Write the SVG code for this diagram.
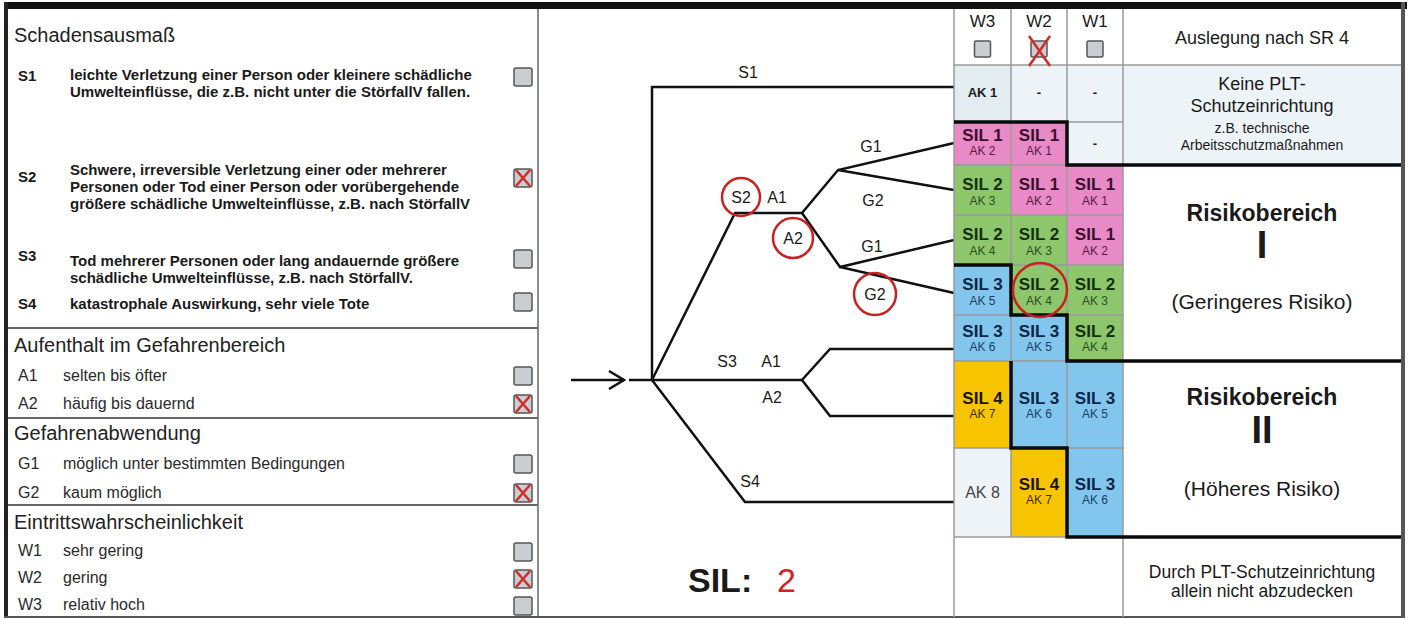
<svg xmlns="http://www.w3.org/2000/svg" width="1409" height="619" viewBox="0 0 1409 619">
<style>
.t{font-family:"Liberation Sans",Arial,sans-serif;fill:#1a1a1a}
.h{font-size:20px;fill:#222}
.sb{font-size:15px;font-weight:bold}
.ln{font-size:16px;fill:#2a2a2a}
.cb{fill:#c9ced2;stroke:#555;stroke-width:1.5}
.rx{stroke:#d42a2a;stroke-width:2.5;fill:none}
.tree{stroke:#111;stroke-width:2.5;fill:none}
.rc{fill:none;stroke:#cc1f1f;stroke-width:2.5}
.tl{font-size:16px;text-anchor:middle}
.grid{stroke:#9a9a9a;stroke-width:1.5;fill:none}
.thick{stroke:#0a0a0a;stroke-width:3.5;fill:none}
.sep{stroke:#666;stroke-width:2;fill:none}
.sil{font-size:17px;font-weight:bold;text-anchor:middle}
.ak{font-size:12px;text-anchor:middle}
.c{text-anchor:middle}
.pink{fill:#e88ac6}.green{fill:#8ec66c}.blue{fill:#82c6ed}.yellow{fill:#f8c400}.light{fill:#edf3f6}
.pk{fill:#3a0f2e}.pk2{fill:#5a1a45}.gr{fill:#13300a}.gr2{fill:#2b4f1c}.bl{fill:#0b2447}.bl2{fill:#1c3e66}.ye{fill:#1a1400}.ye2{fill:#3a2d00}
</style>
<defs>
<g id="box"><rect class="cb" x="0" y="0" width="18" height="18" rx="2"/></g>
<g id="boxx"><rect class="cb" x="0" y="0" width="18" height="18" rx="2"/><path class="rx" d="M2,1 L16,17 M16,1 L2,17"/></g>
<marker id="arr" markerWidth="18" markerHeight="20" refX="16" refY="10" orient="auto" markerUnits="userSpaceOnUse"><path d="M1,1 L16,10 L1,19" fill="none" stroke="#111" stroke-width="2.5"/></marker>
</defs>
<rect x="0" y="0" width="1409" height="619" fill="#fff"/>

<!-- frame -->
<g id="frame">
<rect x="4" y="2" width="1403" height="7" fill="#111"/>
<rect x="4" y="2" width="4" height="616" fill="#222"/>
<rect x="1401" y="2" width="4" height="616" fill="#555"/>
<line x1="4" y1="617" x2="1405" y2="617" stroke="#555" stroke-width="2"/>
<line x1="538" y1="9" x2="538" y2="617" stroke="#666" stroke-width="1.5"/>
</g>

<!-- left panel -->
<g id="schadensausmass">
<text class="t h" x="14" y="42">Schadensausmaß</text>
<text class="t sb" x="18" y="81">S1</text>
<text class="t sb" x="70" y="80">leichte Verletzung einer Person oder kleinere schädliche</text>
<text class="t sb" x="70" y="97">Umwelteinflüsse,  die z.B. nicht unter die StörfallV fallen.</text>
<use href="#box" x="514" y="68"/>
<text class="t sb" x="18" y="182">S2</text>
<text class="t sb" x="70" y="175">Schwere, irreversible Verletzung einer oder mehrerer</text>
<text class="t sb" x="70" y="192">Personen oder Tod einer Person oder vorübergehende</text>
<text class="t sb" x="70" y="209">größere schädliche Umwelteinflüsse, z.B. nach StörfallV</text>
<use href="#boxx" x="514" y="169"/>
<text class="t sb" x="18" y="261">S3</text>
<text class="t sb" x="70" y="266">Tod mehrerer Personen oder lang andauernde größere</text>
<text class="t sb" x="70" y="283">schädliche Umwelteinflüsse, z.B. nach StörfallV.</text>
<use href="#box" x="514" y="250"/>
<text class="t sb" x="18" y="309">S4</text>
<text class="t sb" x="70" y="309">katastrophale Auswirkung, sehr viele Tote</text>
<use href="#box" x="514" y="293"/>
<line class="sep" x1="8" y1="328" x2="538" y2="328"/>
</g>

<g id="aufenthalt">
<text class="t h" x="14" y="352">Aufenthalt  im Gefahrenbereich</text>
<text class="t ln" x="18" y="381">A1</text>
<text class="t ln" x="63" y="381">selten bis öfter</text>
<use href="#box" x="514" y="367"/>
<text class="t ln" x="18" y="409">A2</text>
<text class="t ln" x="63" y="409">häufig bis dauernd</text>
<use href="#boxx" x="514" y="395"/>
<line class="sep" x1="8" y1="418" x2="538" y2="418"/>
</g>

<g id="gefahrenabwendung">
<text class="t h" x="14" y="440">Gefahrenabwendung</text>
<text class="t ln" x="18" y="469">G1</text>
<text class="t ln" x="63" y="469">möglich unter bestimmten Bedingungen</text>
<use href="#box" x="514" y="455"/>
<text class="t ln" x="18" y="498">G2</text>
<text class="t ln" x="63" y="498">kaum möglich</text>
<use href="#boxx" x="514" y="484"/>
<line class="sep" x1="8" y1="505" x2="538" y2="505"/>
</g>

<g id="eintritt">
<text class="t h" x="14" y="529">Eintrittswahrscheinlichkeit</text>
<text class="t ln" x="18" y="556">W1</text>
<text class="t ln" x="63" y="556">sehr gering</text>
<use href="#box" x="514" y="543"/>
<text class="t ln" x="18" y="583">W2</text>
<text class="t ln" x="63" y="583">gering</text>
<use href="#boxx" x="514" y="570"/>
<text class="t ln" x="18" y="610">W3</text>
<text class="t ln" x="63" y="610">relativ hoch</text>
<use href="#box" x="514" y="597"/>
</g>

<!-- tree connectors -->
<g id="connectors">
<line class="tree" x1="571" y1="380" x2="624" y2="380" marker-end="url(#arr)"/>
<path class="tree" d="M629,380 H802"/>
<path class="tree" d="M652,380 V87 H954"/>
<path class="tree" d="M652,380 L735,213 H802"/>
<path class="tree" d="M802,213 L838,170 L954,143 M838,170 L954,190"/>
<path class="tree" d="M802,213 L840,267 L954,240 M840,267 L954,293"/>
<path class="tree" d="M954,349 H830 L802,380 L830,416 H954"/>
<path class="tree" d="M652,380 L745,502 H954"/>
</g>

<g id="tree-labels">
<text class="t tl" x="748" y="78">S1</text>
<text class="t tl" x="741" y="203">S2</text>
<circle class="rc" cx="741" cy="197" r="19"/>
<text class="t tl" x="777" y="203">A1</text>
<text class="t tl" x="793" y="244">A2</text>
<circle class="rc" cx="793" cy="238" r="20"/>
<text class="t tl" x="871" y="152">G1</text>
<text class="t tl" x="873" y="206">G2</text>
<text class="t tl" x="872" y="252">G1</text>
<text class="t tl" x="875" y="300">G2</text>
<circle class="rc" cx="875" cy="294" r="21"/>
<text class="t tl" x="727" y="367">S3</text>
<text class="t tl" x="771" y="367">A1</text>
<text class="t tl" x="772" y="403">A2</text>
<text class="t tl" x="750" y="487">S4</text>
</g>

<g id="result">
<text class="t" x="688" y="592" font-size="34" font-weight="bold">SIL:</text>
<text class="t" x="777" y="592" font-size="34" style="fill:#d42020">2</text>
</g>

<!-- table -->
<g id="table-cells">
<rect x="954" y="65" width="57" height="57" fill="#e3ecf1"/>
<rect class="light" x="1011" y="65" width="56" height="57"/>
<rect class="light" x="1067" y="65" width="56" height="57"/>
<rect x="1123" y="65" width="278" height="100" fill="#edf4f7"/>
<rect class="pink" x="954" y="122" width="57" height="43"/>
<rect class="pink" x="1011" y="122" width="56" height="43"/>
<rect class="light" x="1067" y="122" width="56" height="43"/>
<rect class="green" x="954" y="165" width="57" height="50"/>
<rect class="pink" x="1011" y="165" width="56" height="50"/>
<rect class="pink" x="1067" y="165" width="56" height="50"/>
<rect class="green" x="954" y="215" width="57" height="50"/>
<rect class="green" x="1011" y="215" width="56" height="50"/>
<rect class="pink" x="1067" y="215" width="56" height="50"/>
<rect class="blue" x="954" y="265" width="57" height="50"/>
<rect class="green" x="1011" y="265" width="56" height="50"/>
<rect class="green" x="1067" y="265" width="56" height="50"/>
<rect class="blue" x="954" y="315" width="57" height="46"/>
<rect class="blue" x="1011" y="315" width="56" height="46"/>
<rect class="green" x="1067" y="315" width="56" height="46"/>
<rect class="yellow" x="954" y="361" width="57" height="87"/>
<rect class="blue" x="1011" y="361" width="56" height="87"/>
<rect class="blue" x="1067" y="361" width="56" height="87"/>
<rect class="light" x="954" y="448" width="57" height="89"/>
<rect class="yellow" x="1011" y="448" width="56" height="89"/>
<rect class="blue" x="1067" y="448" width="56" height="89"/>
</g>

<g id="table-grid">
<path class="grid" d="M954,9 V617 M1011,9 V537 M1067,9 V537 M1123,9 V617"/>
<path class="grid" d="M954,65 H1401 M954,122 H1123 M954,165 H1123 M954,215 H1123 M954,265 H1123 M954,315 H1123 M954,361 H1123 M954,448 H1123 M954,537 H1401"/>
<path class="thick" d="M954,122 H1067 V165 H1401"/>
<path class="thick" d="M954,265 H1011 V315 H1067 V361 H1401"/>
<path class="thick" d="M1011,361 V448 H1067 V537 H1401"/>
</g>

<g id="table-header">
<text class="t c" x="982.5" y="27" font-size="17">W3</text>
<text class="t c" x="1039" y="27" font-size="17">W2</text>
<text class="t c" x="1095" y="27" font-size="17">W1</text>
<rect class="cb" x="974.5" y="41" width="16" height="16" rx="1.5"/>
<rect class="cb" x="1031" y="41" width="16" height="16" rx="1.5"/>
<path class="rx" d="M1029,36 L1050,66 M1050,36 L1029,66"/>
<rect class="cb" x="1087" y="41" width="16" height="16" rx="1.5"/>
<text class="t c" x="1262" y="44" font-size="18">Auslegung nach SR 4</text>
</g>

<g id="table-texts">
<text class="t c" x="982.5" y="97" font-size="13" font-weight="bold">AK 1</text>
<text class="t c" x="1039" y="97" font-size="13" font-weight="bold">-</text>
<text class="t c" x="1095" y="97" font-size="13" font-weight="bold">-</text>
<text class="t sil pk" x="982.5" y="141">SIL 1</text><text class="t ak pk2" x="982.5" y="155">AK 2</text>
<text class="t sil pk" x="1039" y="141">SIL 1</text><text class="t ak pk2" x="1039" y="155">AK 1</text>
<text class="t c" x="1095" y="148" font-size="13" font-weight="bold">-</text>
<text class="t sil gr" x="982.5" y="190">SIL 2</text><text class="t ak gr2" x="982.5" y="205">AK 3</text>
<text class="t sil pk" x="1039" y="190">SIL 1</text><text class="t ak pk2" x="1039" y="205">AK 2</text>
<text class="t sil pk" x="1095" y="190">SIL 1</text><text class="t ak pk2" x="1095" y="205">AK 1</text>
<text class="t sil gr" x="982.5" y="240">SIL 2</text><text class="t ak gr2" x="982.5" y="255">AK 4</text>
<text class="t sil gr" x="1039" y="240">SIL 2</text><text class="t ak gr2" x="1039" y="255">AK 3</text>
<text class="t sil pk" x="1095" y="240">SIL 1</text><text class="t ak pk2" x="1095" y="255">AK 2</text>
<text class="t sil bl" x="982.5" y="290">SIL 3</text><text class="t ak bl2" x="982.5" y="305">AK 5</text>
<text class="t sil gr" x="1039" y="290">SIL 2</text><text class="t ak gr2" x="1039" y="305">AK 4</text>
<text class="t sil gr" x="1095" y="290">SIL 2</text><text class="t ak gr2" x="1095" y="305">AK 3</text>
<text class="t sil bl" x="982.5" y="337">SIL 3</text><text class="t ak bl2" x="982.5" y="351">AK 6</text>
<text class="t sil bl" x="1039" y="337">SIL 3</text><text class="t ak bl2" x="1039" y="351">AK 5</text>
<text class="t sil gr" x="1095" y="337">SIL 2</text><text class="t ak gr2" x="1095" y="351">AK 4</text>
<text class="t sil ye" x="982.5" y="404">SIL 4</text><text class="t ak ye2" x="982.5" y="418">AK 7</text>
<text class="t sil bl" x="1039" y="404">SIL 3</text><text class="t ak bl2" x="1039" y="418">AK 6</text>
<text class="t sil bl" x="1095" y="404">SIL 3</text><text class="t ak bl2" x="1095" y="418">AK 5</text>
<text class="t c" x="982.5" y="498" font-size="16" style="fill:#444">AK 8</text>
<text class="t sil ye" x="1039" y="490">SIL 4</text><text class="t ak ye2" x="1039" y="504">AK 7</text>
<text class="t sil bl" x="1095" y="490">SIL 3</text><text class="t ak bl2" x="1095" y="504">AK 6</text>
<circle class="rc" cx="1040" cy="290" r="27"/>
</g>

<g id="zone-none">
<text class="t c" x="1262" y="90" font-size="18">Keine PLT-</text>
<text class="t c" x="1262" y="112" font-size="18">Schutzeinrichtung</text>
<text class="t c" x="1262" y="133" font-size="14">z.B. technische</text>
<text class="t c" x="1262" y="150" font-size="14">Arbeitsschutzmaßnahmen</text>
</g>
<g id="zone-1">
<text class="t c" x="1262" y="221" font-size="23" font-weight="bold">Risikobereich</text>
<text class="t c" x="1262" y="258" font-size="38" font-weight="bold">I</text>
<text class="t c" x="1262" y="309" font-size="21">(Geringeres Risiko)</text>
</g>
<g id="zone-2">
<text class="t c" x="1262" y="405" font-size="23" font-weight="bold">Risikobereich</text>
<text class="t c" x="1262" y="443" font-size="38" font-weight="bold">II</text>
<text class="t c" x="1262" y="496" font-size="21">(Höheres Risiko)</text>
</g>
<g id="zone-3">
<text class="t c" x="1262" y="578" font-size="17.5">Durch PLT-Schutzeinrichtung</text>
<text class="t c" x="1262" y="597" font-size="17.5">allein nicht abzudecken</text>
</g>
</svg>
